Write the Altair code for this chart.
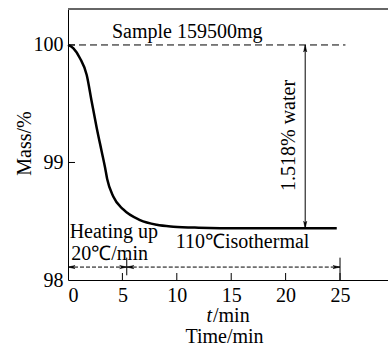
import altair as alt
import pandas as pd

# curve data
time_min = [0.0, 0.5, 1.1, 1.72, 2.18, 2.64, 3.10, 3.40, 3.60, 4.16, 5.08, 6.62, 8.15, 9.68, 12.0, 16.0, 20.0, 24.7]
mass_pct = [100.0, 99.97, 99.887, 99.745, 99.517, 99.294, 99.092, 98.96, 98.86, 98.71, 98.60, 98.51, 98.47, 98.454, 98.445, 98.44, 98.44, 98.44]

x_ticks = [0, 5, 10, 15, 20, 25]
y_ticks = [98, 99, 100]

FONT = "Liberation Serif"
FS = 20
XDOM = [0, 29.41]
YDOM = [98, 100.306]

xs = alt.Scale(domain=XDOM, nice=False, zero=False)
ys = alt.Scale(domain=YDOM, nice=False, zero=False)

curve = alt.Chart(pd.DataFrame({"t": time_min, "m": mass_pct})).mark_line(
    color="black", strokeWidth=2.5, interpolate="monotone"
).encode(
    x=alt.X("t:Q", scale=xs, axis=alt.Axis(
        values=x_ticks, format="d", ticks=False, grid=False, domainColor="black", domainWidth=1,
        labelFont=FONT, labelFontSize=FS, labelColor="black", labelPadding=5,
        title="Time/min", titleFont=FONT, titleFontSize=FS, titleFontWeight="normal",
        titleColor="black", titleX=156, titleY=56, titleBaseline="middle")),
    y=alt.Y("m:Q", scale=ys, axis=alt.Axis(
        values=y_ticks, format="d", ticks=False, grid=False, domainColor="black", domainWidth=1,
        labelFont=FONT, labelFontSize=FS, labelColor="black", labelPadding=5,
        title="Mass/%", titleFont=FONT, titleFontSize=FS, titleFontWeight="normal",
        titleColor="black", titleX=-44, titleY=134, titleAngle=270, titleBaseline="middle")),
)

# dashed reference line at 100 %
dash_df = pd.DataFrame({"t": [0], "t2": [25.5], "m": [100]})
dashed = alt.Chart(dash_df).mark_rule(color="black", strokeWidth=1, strokeDash=[7, 4]).encode(
    x=alt.X("t:Q", scale=xs), x2="t2:Q", y=alt.Y("m:Q", scale=ys))

# water arrow
water_df = pd.DataFrame({"t": [21.8], "m1": [100.0], "m2": [98.44]})
water = alt.Chart(water_df).mark_rule(color="black", strokeWidth=1).encode(
    x=alt.X("t:Q", scale=xs), y=alt.Y("m1:Q", scale=ys), y2="m2:Q")

# phase arrows
seg_df = pd.DataFrame({"t1": [0.0, 5.4], "t2": [5.4, 25.0], "m": [98.11, 98.11]})
segs = alt.Chart(seg_df).mark_rule(color="black", strokeWidth=1, strokeDash=[4, 2]).encode(
    x=alt.X("t1:Q", scale=xs), x2="t2:Q", y=alt.Y("m:Q", scale=ys))

marks_df = pd.DataFrame({"t": [5.4, 25.0], "m1": [98.04, 98.0], "m2": [98.19, 98.19]})
vmarks = alt.Chart(marks_df).mark_rule(color="black", strokeWidth=1).encode(
    x=alt.X("t:Q", scale=xs), y=alt.Y("m1:Q", scale=ys), y2="m2:Q")

RIGHT = "M0,0L-2,-0.45L-1.5,0L-2,0.45Z"
LEFT = "M0,0L2,-0.45L1.5,0L2,0.45Z"
UP = "M0,0L-0.45,2L0,1.5L0.45,2Z"
DOWN = "M0,0L-0.45,-2L0,-1.5L0.45,-2Z"

def heads(ts, ms, shape):
    return alt.Chart(pd.DataFrame({"t": ts, "m": ms})).mark_point(
        shape=shape, filled=True, fill="black", stroke="black", size=50, opacity=1, strokeWidth=0.5
    ).encode(x=alt.X("t:Q", scale=xs), y=alt.Y("m:Q", scale=ys))

arrow_heads = [
    heads([0.0, 5.4], [98.11, 98.11], LEFT),
    heads([5.4, 25.0], [98.11, 98.11], RIGHT),
    heads([21.8], [100.0], UP),
    heads([21.8], [98.44], DOWN),
]

# inward axis ticks
xt_df = pd.DataFrame({"t": [5, 10, 15, 20, 25]})
xticks = alt.Chart(xt_df).mark_rule(color="black", strokeWidth=1).encode(
    x=alt.X("t:Q", scale=xs), y=alt.value(271), y2=alt.value(264))
yt_df = pd.DataFrame({"m": [99, 100]})
yticks = alt.Chart(yt_df).mark_rule(color="black", strokeWidth=1).encode(
    y=alt.Y("m:Q", scale=ys), x=alt.value(0), x2=alt.value(7))

# top frame line
top = alt.Chart(pd.DataFrame({"a": [0]})).mark_rule(color="#666666", strokeWidth=2).encode(
    x=alt.value(0), x2=alt.value(320), y=alt.value(0))

# annotation texts
def txt(label, t, m, align="left", baseline="alphabetic", angle=0, italic=False):
    return alt.Chart(pd.DataFrame({"label": [label], "t": [t], "m": [m]})).mark_text(
        font=FONT, fontSize=FS, color="black", align=align, baseline=baseline,
        angle=angle, fontStyle="italic" if italic else "normal"
    ).encode(x=alt.X("t:Q", scale=xs), y=alt.Y("m:Q", scale=ys), text="label:N")

texts = [
    txt("Sample 159500mg", 4.04, 100.06),
    txt("1.518% water", 20.3, 99.23, align="center", baseline="middle", angle=270),
    txt("Heating up", 0.15, 98.357),
    txt("20\u2103/min", 0.3, 98.17),
    txt("110\u2103isothermal", 9.9, 98.27),
]

t_label = alt.Chart(pd.DataFrame({"label": ["t"]})).mark_text(
    font=FONT, fontSize=FS, color="black", align="right", baseline="middle", fontStyle="italic"
).encode(x=alt.value(144), y=alt.value(307), text="label:N")
min_label = alt.Chart(pd.DataFrame({"label": ["/min"]})).mark_text(
    font=FONT, fontSize=FS, color="black", align="left", baseline="middle"
).encode(x=alt.value(145), y=alt.value(307), text="label:N")

chart = alt.layer(
    top, dashed, water, segs, vmarks, xticks, yticks, curve, *arrow_heads, *texts, t_label, min_label
).properties(
    width=320, height=271,
    autosize=alt.AutoSizeParams(type="none"),
    padding={"left": 68, "top": 9, "right": 0, "bottom": 67},
).configure_view(stroke=None)

chart.save("out.html", embed_options={"renderer": "svg", "actions": False})
